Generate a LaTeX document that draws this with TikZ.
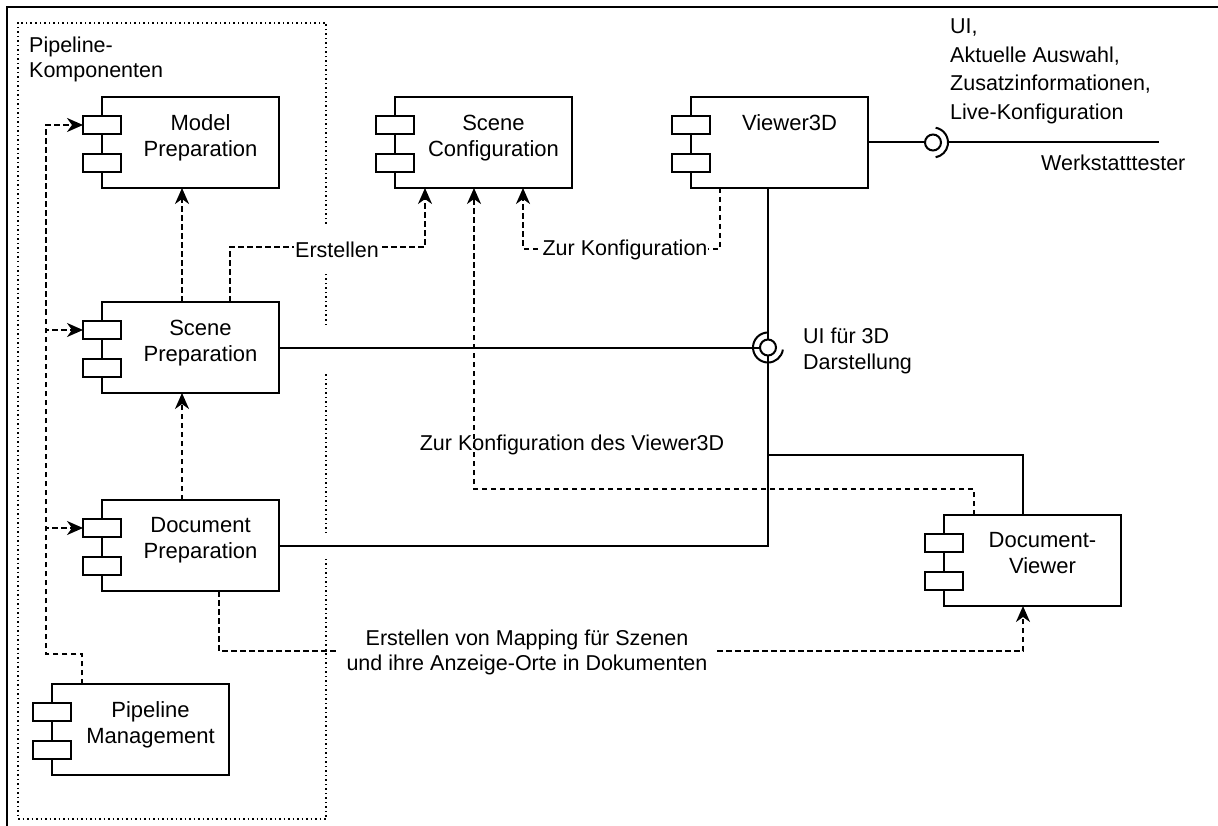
\documentclass[tikz,border=0pt]{standalone}
\usepackage{fontspec}
\setmainfont{Liberation Sans}
\usetikzlibrary{arrows.meta}

\tikzset{
  compbox/.style={draw, fill=white, line width=2pt, inner sep=0pt, outer sep=0pt,
    minimum width=177pt, minimum height=91pt, anchor=north west},
  comptab/.style={draw, fill=white, line width=2pt, inner sep=0pt, outer sep=0pt,
    minimum width=38pt, minimum height=18pt},
  complabel/.style={anchor=north, align=center, inner sep=0pt,
    font=\fontsize{22}{26}\selectfont},
  dep/.style={line width=2pt, dash pattern=on 5.5pt off 3.5pt,
    -{Stealth[length=16pt, width=14pt, inset=5pt]}},
  conn/.style={line width=2pt},
  elabel/.style={font=\fontsize{21.5}{25}\selectfont, align=center, inner sep=1pt},
  freetext/.style={anchor=north west, align=left, inner sep=0pt},
  ball/.style={circle, draw, fill=white, line width=2pt, minimum size=16pt,
    inner sep=0pt, outer sep=0pt},
  grp/.style={line width=1.5pt, dash pattern=on 1.5pt off 3pt},
  frame/.style={line width=2.5pt}
}

% UML component: name, left, top, label
\newcommand{\umlcomponent}[4]{%
  \node[compbox] (#1) at (#2,-#3) {};
  \node[comptab] (#1-t1) at ([yshift=-28pt]#1.north west) {};
  \node[comptab] (#1-t2) at ([yshift=-66pt]#1.north west) {};
  \node[complabel] (#1-l) at ([xshift=98.5pt,yshift=-17.5pt]#1.north west) {#4};
}

\begin{document}
\begin{tikzpicture}[x=1pt, y=1pt]
\useasboundingbox (0,0) rectangle (1218,-826);

% outer frame
\draw[frame] (1218,-7) -- (7,-7) -- (7,-826);

% pipeline group (dotted)
\draw[grp] (326,-224) -- (326,-23) -- (18,-23) -- (18,-819) -- (326,-819) -- (326,-558);
\draw[grp] (326,-533) -- (326,-372);
\draw[grp] (326,-325) -- (326,-272);
\node[freetext, font=\fontsize{21.5}{25}\selectfont] (grplabel) at (29,-37)
  {Pipeline-\\Komponenten};

% components
\umlcomponent{mp}{102}{97}{Model\\Preparation}
\umlcomponent{sc}{395}{97}{Scene\\Configuration}
\umlcomponent{v3}{691}{97}{Viewer3D}
\umlcomponent{sp}{102}{302}{Scene\\Preparation}
\umlcomponent{dp}{102}{500}{Document\\Preparation}
\umlcomponent{pm}{52}{684}{Pipeline\\Management}
\umlcomponent{dv}{944}{515}{Document-\\Viewer}

% pipeline management controls the preparation steps
\coordinate (pmout) at ([xshift=30pt]pm.north west);
\coordinate (pmbus) at (46,-654);
\draw[dep] (pmout) |- (pmbus) |- (mp-t1.west);
\draw[dep] (pmout) |- (pmbus) |- (sp-t1.west);
\draw[dep] (pmout) |- (pmbus) |- (dp-t1.west);

% preparation chain
\draw[dep] ([xshift=80pt]sp.north west) -- ([xshift=80pt]mp.south west);
\draw[dep] ([xshift=80pt]dp.north west) -- ([xshift=80pt]sp.south west);

% scene configuration dependencies
\draw[dep] ([xshift=128pt]sp.north west) -- ++(0,55) -| ([xshift=30pt]sc.south west);
\node[elabel, fill=white] (lerst) at (337,-250) {Erstellen};
\draw[dep] ([xshift=29pt]v3.south west) -- ++(0,-61) -| ([xshift=128pt]sc.south west);
\node[elabel, fill=white] (lzur) at (625,-250) {Zur Konfiguration};
\draw[dep] ([xshift=30pt]dv.north west) -- ++(0,26) -| ([xshift=79pt]sc.south west);
\node[elabel] (lzurv) at (572,-445) {Zur Konfiguration des Viewer3D};

% mapping for the document viewer
\draw[dep] ([xshift=117pt]dp.south west) -- ++(0,-60) -| ([xshift=79pt]dv.south west);
\node[elabel, fill=white, inner xsep=8pt] (lmap) at (527,-652)
  {Erstellen von Mapping für Szenen\\und ihre Anzeige-Orte in Dokumenten};

% provided interface "UI für 3D Darstellung"
\coordinate (v3out) at ([xshift=77pt]v3.south west);
\node[ball] (ui3d) at (sp.east -| v3out) {};
\draw[conn] (v3out) -- (ui3d.north);
\draw[conn] (sp.east) -- (ui3d.west);
\draw[conn] (dp.east) -| (ui3d.south);
\coordinate (dvjoin) at (v3out |- 0,-455);
\draw[conn] ([xshift=79pt]dv.north west) |- (dvjoin);
\draw[conn] (ui3d.center) ++(90:15pt) arc[start angle=90, end angle=352, radius=15pt];
\node[freetext, font=\fontsize{21.5}{26}\selectfont] (ui3dlabel) at (803,-328)
  {UI für 3D\\Darstellung};

% interface to the workshop tester
\node[ball] (uiws) at ([xshift=65pt]v3.east) {};
\draw[conn] (v3.east) -- (uiws.west);
\draw[conn] (uiws.center) ++(80:15pt) arc[start angle=80, end angle=-80, radius=15pt];
\coordinate (wt) at ([xshift=226pt]uiws.center);
\draw[conn] ([xshift=15pt]uiws.center) -- (wt);
\node[freetext, font=\fontsize{21.5}{28.5}\selectfont] (uiwslabel) at (950,-19)
  {UI,\\Aktuelle Auswahl,\\Zusatzinformationen,\\Live-Konfiguration};
\node[freetext, font=\fontsize{21.5}{25}\selectfont] (wtlabel) at (1041,-155)
  {Werkstatttester};

\end{tikzpicture}
\end{document}
